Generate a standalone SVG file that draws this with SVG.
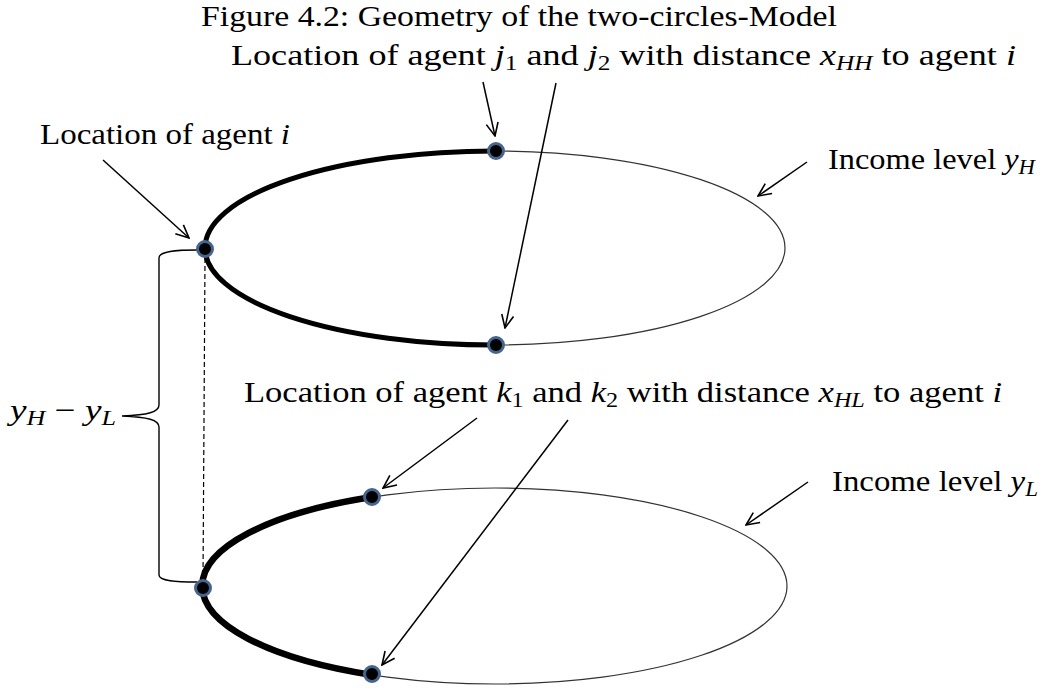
<svg xmlns="http://www.w3.org/2000/svg" width="1044" height="690" viewBox="0 0 1044 690">
<style>
text{font-family:"Liberation Serif","Times New Roman",serif;font-size:30px;fill:#000}
.m{font-style:italic}
.s{font-size:21px}
.thin{fill:none;stroke:#333;stroke-width:1.2}
.thick{fill:none;stroke:#000}
.arr{fill:none;stroke:#000;stroke-width:1.5;marker-end:url(#ah)}
.dot{fill:#000;stroke:#45658c;stroke-width:3}
</style>
<defs>
<marker id="ah" markerUnits="userSpaceOnUse" markerWidth="16" markerHeight="16" viewBox="0 0 16 16" refX="15" refY="8" orient="auto">
<path d="M2,2 L15,8 L2,14" fill="none" stroke="#000" stroke-width="1.6"/>
</marker>
</defs>
<rect width="1044" height="690" fill="#fff"/>
<g id="title"><text x="201" y="26" font-size="28" textLength="636" lengthAdjust="spacingAndGlyphs">Figure 4.2: Geometry of the two-circles-Model</text></g>
<g id="circleH">
<ellipse class="thin" cx="495" cy="248" rx="290" ry="97"/>
<path class="thick" stroke-width="5" d="M495,151 A290,97 0 0 0 495,345"/>
</g>
<g id="circleL">
<ellipse class="thin" cx="495" cy="586" rx="292" ry="98"/>
<path class="thick" stroke-width="6.5" d="M372,497 A292,98 0 0 0 372,675"/>
</g>
<g id="connectors">
<line x1="205" y1="258" x2="203" y2="579" stroke="#000" stroke-width="1.2" stroke-dasharray="5,3"/>
<path d="M197,250 C176,250 159,251 159,258 L159,405 C159,412 148,415 122,416 C148,417 159,420 159,427 L159,575 C159,581 176,582 197,582" fill="none" stroke="#000" stroke-width="1.4"/>
<line class="arr" x1="103" y1="160" x2="189" y2="238"/>
<line class="arr" x1="483" y1="82" x2="495" y2="136"/>
<line class="arr" x1="556" y1="83" x2="505" y2="328"/>
<line class="arr" x1="807" y1="162" x2="758" y2="196"/>
<line class="arr" x1="477" y1="418" x2="383" y2="488"/>
<line class="arr" x1="568" y1="420" x2="382" y2="665"/>
<line class="arr" x1="808" y1="482" x2="746" y2="525"/>
</g>
<g id="agent-i-H"><circle class="dot" cx="205" cy="249" r="7.5"/></g>
<g id="agent-j1"><circle class="dot" cx="496" cy="151" r="7.5"/></g>
<g id="agent-j2"><circle class="dot" cx="496" cy="345" r="7.5"/></g>
<g id="agent-i-L"><circle class="dot" cx="203" cy="588" r="7.5"/></g>
<g id="agent-k1"><circle class="dot" cx="372" cy="497" r="7.5"/></g>
<g id="agent-k2"><circle class="dot" cx="372" cy="674" r="7.5"/></g>
<g id="label-j"><text x="231" y="65" textLength="785" lengthAdjust="spacingAndGlyphs">Location of agent <tspan class="m">j</tspan><tspan class="s" dy="5">1</tspan><tspan dy="-5"> and </tspan><tspan class="m">j</tspan><tspan class="s" dy="5">2</tspan><tspan dy="-5"> with distance </tspan><tspan class="m">x</tspan><tspan class="s m" dy="5">HH</tspan><tspan dy="-5"> to agent </tspan><tspan class="m">i</tspan></text></g>
<g id="label-i"><text x="40" y="144" textLength="250" lengthAdjust="spacingAndGlyphs">Location of agent <tspan class="m">i</tspan></text></g>
<g id="label-yH"><text x="828" y="169" textLength="207" lengthAdjust="spacingAndGlyphs">Income level <tspan class="m">y</tspan><tspan class="s m" dy="5">H</tspan></text></g>
<g id="label-k"><text x="244" y="402" textLength="758" lengthAdjust="spacingAndGlyphs">Location of agent <tspan class="m">k</tspan><tspan class="s" dy="5">1</tspan><tspan dy="-5"> and </tspan><tspan class="m">k</tspan><tspan class="s" dy="5">2</tspan><tspan dy="-5"> with distance </tspan><tspan class="m">x</tspan><tspan class="s m" dy="5">HL</tspan><tspan dy="-5"> to agent </tspan><tspan class="m">i</tspan></text></g>
<g id="label-yL"><text x="832" y="491" textLength="206" lengthAdjust="spacingAndGlyphs">Income level <tspan class="m">y</tspan><tspan class="s m" dy="5">L</tspan></text></g>
<g id="label-diff"><text x="10" y="420" textLength="106" lengthAdjust="spacingAndGlyphs"><tspan class="m">y</tspan><tspan class="s m" dy="5">H</tspan><tspan dy="-5"> − </tspan><tspan class="m">y</tspan><tspan class="s m" dy="5">L</tspan></text></g>
</svg>
